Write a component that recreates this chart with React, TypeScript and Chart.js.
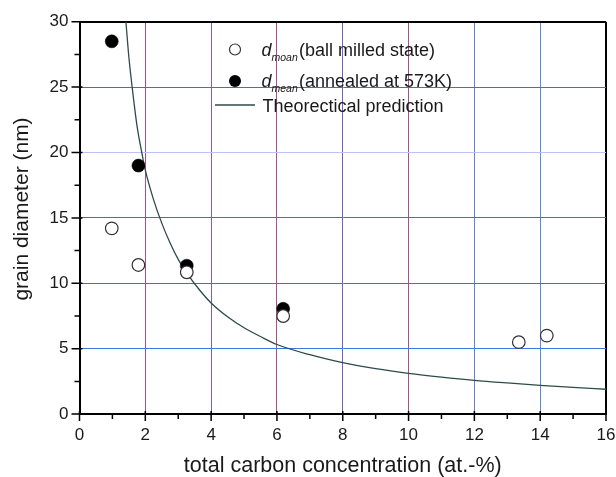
import { useEffect, useRef } from "react";
import { Chart, registerables } from "chart.js";

Chart.register(...registerables);

// ---- data ----
const ballMilledX = [0.98, 1.79, 3.26, 6.19, 13.35, 14.2];
const ballMilledY = [14.2, 11.4, 10.84, 7.5, 5.5, 6.0];
const annealedX = [0.98, 1.79, 3.26, 6.19];
const annealedY = [28.5, 19.0, 11.35, 8.05];
const theoryX = [1.41, 1.5, 1.6, 1.75, 1.9, 2.0, 2.25, 2.5, 2.75, 3.0, 3.3, 3.66, 4.0, 4.5, 5, 5.5, 6, 7, 8, 9, 10, 11, 12, 13, 14, 15, 16];
const theoryY = [30, 27.3, 25.0, 22.0, 19.9, 18.65, 16.4, 14.6, 13.1, 11.83, 10.64, 9.45, 8.5, 7.44, 6.6, 5.93, 5.32, 4.54, 3.94, 3.48, 3.12, 2.83, 2.58, 2.38, 2.2, 2.04, 1.9];
const xTicks = [0, 2, 4, 6, 8, 10, 12, 14, 16];
const yTicks = [0, 5, 10, 15, 20, 25, 30];
const xTitle = "total carbon concentration (at.-%)";
const yTitle = "grain diameter (nm)";
const legendLabels = ["(ball milled state)", "(annealed at 573K)", "Theorectical prediction"];
const legendSubs = ["moan", "mean"];

const FONT = '"Liberation Sans", Arial, Helvetica, sans-serif';
const TEXT = "#1a1a1a";
const CURVE = "#2f4a4a";

const xGridColor: Record<number, string> = {
  0: "#000", 2: "#a8508e", 4: "#6c62d0", 6: "#a8508e", 8: "#6c62d0", 10: "#a8508e", 12: "#5a84e4", 14: "#5a84e4", 16: "#000",
};
const yGridColor: Record<number, string> = {
  0: "#000", 5: "#3a78e4", 10: "#5e5ed8", 15: "#5e5ed8", 20: "#bcc2f2", 25: "#5e5ed8", 30: "#000",
};

const tickPlugin = {
  id: "customTicks",
  afterDraw(chart: any) {
    const { ctx, chartArea, scales } = chart;
    const xs = scales.x;
    const ys = scales.y;
    ctx.save();
    ctx.strokeStyle = "#000";
    ctx.lineWidth = 1.5;
    ctx.beginPath();
    for (let v = 0; v <= 16; v += 1) {
      const px = xs.getPixelForValue(v);
      const major = v % 2 === 0;
      ctx.moveTo(px, chartArea.bottom + (major ? -3 : 0));
      ctx.lineTo(px, chartArea.bottom + (major ? 7 : 5));
    }
    for (let v = 0; v <= 30; v += 2.5) {
      const py = ys.getPixelForValue(v);
      const major = v % 5 === 0;
      ctx.moveTo(chartArea.left + (major ? 3 : 0), py);
      ctx.lineTo(chartArea.left - (major ? 8 : 5), py);
    }
    ctx.stroke();

    // y axis title (drawn slightly above the plot centre, as in the reference)
    ctx.save();
    ctx.translate(22.5, 209);
    ctx.rotate(-Math.PI / 2);
    ctx.font = `21px ${FONT}`;
    ctx.fillStyle = TEXT;
    ctx.textAlign = "center";
    ctx.textBaseline = "middle";
    ctx.fillText(yTitle, 0, 0);
    ctx.restore();
    ctx.restore();
  },
};

const legendPlugin = {
  id: "customLegend",
  afterDraw(chart: any) {
    const { ctx } = chart;
    ctx.save();
    ctx.beginPath();
    ctx.arc(235, 49.5, 5.5, 0, Math.PI * 2);
    ctx.fillStyle = "#fff";
    ctx.fill();
    ctx.strokeStyle = "#333";
    ctx.lineWidth = 1.2;
    ctx.stroke();
    ctx.beginPath();
    ctx.arc(235, 81, 6, 0, Math.PI * 2);
    ctx.fillStyle = "#000";
    ctx.fill();
    ctx.beginPath();
    ctx.moveTo(215, 105);
    ctx.lineTo(255, 105);
    ctx.strokeStyle = CURVE;
    ctx.lineWidth = 1.3;
    ctx.stroke();

    ctx.fillStyle = TEXT;
    ctx.textBaseline = "alphabetic";
    ctx.textAlign = "left";
    const baselines = [55.5, 87];
    for (let i = 0; i < 2; i++) {
      ctx.font = `italic 18px ${FONT}`;
      ctx.fillText("d", 261.5, baselines[i]);
      ctx.font = `italic 10.5px ${FONT}`;
      ctx.fillText(legendSubs[i], 271.5, baselines[i] + 5);
      ctx.font = `18px ${FONT}`;
      ctx.fillText(legendLabels[i], 299, baselines[i]);
    }
    ctx.font = `18px ${FONT}`;
    ctx.fillText(legendLabels[2], 262.5, 111.5);
    ctx.restore();
  },
};

export default function App() {
  const ref = useRef<HTMLCanvasElement | null>(null);

  useEffect(() => {
    if (!ref.current) return;
    const chart = new Chart(ref.current, {
      type: "scatter",
      data: {
        datasets: [
          {
            label: "d_moan (ball milled state)",
            data: ballMilledX.map((x, i) => ({ x, y: ballMilledY[i] })),
            pointRadius: 6.3,
            pointBackgroundColor: "#fff",
            pointBorderColor: "#333",
            pointBorderWidth: 1.2,
            showLine: false,
            order: 0,
          },
          {
            label: "d_mean (annealed at 573K)",
            data: annealedX.map((x, i) => ({ x, y: annealedY[i] })),
            pointRadius: 6.5,
            pointBackgroundColor: "#000",
            pointBorderColor: "#000",
            pointBorderWidth: 0.5,
            showLine: false,
            order: 1,
          },
          {
            label: "Theorectical prediction",
            data: theoryX.map((x, i) => ({ x, y: theoryY[i] })),
            type: "line" as any,
            showLine: true,
            pointRadius: 0,
            borderColor: CURVE,
            borderWidth: 1.3,
            cubicInterpolationMode: "monotone",
            fill: false,
            order: 2,
          } as any,
        ],
      },
      options: {
        animation: false,
        responsive: false,
        devicePixelRatio: 1,
        layout: { padding: { top: 21.7, right: 10, bottom: 0, left: 0 } },
        plugins: {
          legend: { display: false },
          tooltip: { enabled: false },
        },
        scales: {
          x: {
            type: "linear",
            min: 0,
            max: 16,
            afterBuildTicks: (s: any) => {
              s.ticks = xTicks.map((v) => ({ value: v }));
            },
            afterFit: (s: any) => {
              s.height = 62.9;
              s.paddingLeft = 0;
              s.paddingRight = 0;
            },
            ticks: {
              font: { family: FONT, size: 17 },
              color: TEXT,
              padding: 11,
              maxRotation: 0,
            },
            grid: {
              drawTicks: false,
              color: (c: any) => xGridColor[c.tick?.value] ?? "#6c62d0",
              lineWidth: (c: any) => (c.tick?.value === 16 ? 2 : 1),
            },
            border: { display: true, color: "#000", width: 2 },
            title: {
              display: true,
              text: xTitle,
              font: { family: FONT, size: 21.5 },
              color: TEXT,
              padding: { top: 0, bottom: -2 },
            },
          },
          y: {
            type: "linear",
            min: 0,
            max: 30,
            afterBuildTicks: (s: any) => {
              s.ticks = yTicks.map((v) => ({ value: v }));
            },
            afterFit: (s: any) => {
              s.width = 79.5;
              s.paddingTop = 0;
              s.paddingBottom = 0;
            },
            ticks: {
              font: { family: FONT, size: 17 },
              color: TEXT,
              padding: 11,
            },
            grid: {
              drawTicks: false,
              color: (c: any) => yGridColor[c.tick?.value] ?? "#5e5ed8",
              lineWidth: (c: any) => (c.tick?.value === 30 ? 2 : 1),
            },
            border: { display: true, color: "#000", width: 2 },
            title: { display: false, text: yTitle },
          },
        },
      },
      plugins: [tickPlugin, legendPlugin],
    } as any);
    return () => chart.destroy();
  }, []);

  return (
    <div style={{ position: "absolute", left: 0, top: 0, width: 616, height: 477, background: "#fff" }}>
      <canvas ref={ref} width={616} height={477} style={{ display: "block", width: 616, height: 477 }} />
    </div>
  );
}
